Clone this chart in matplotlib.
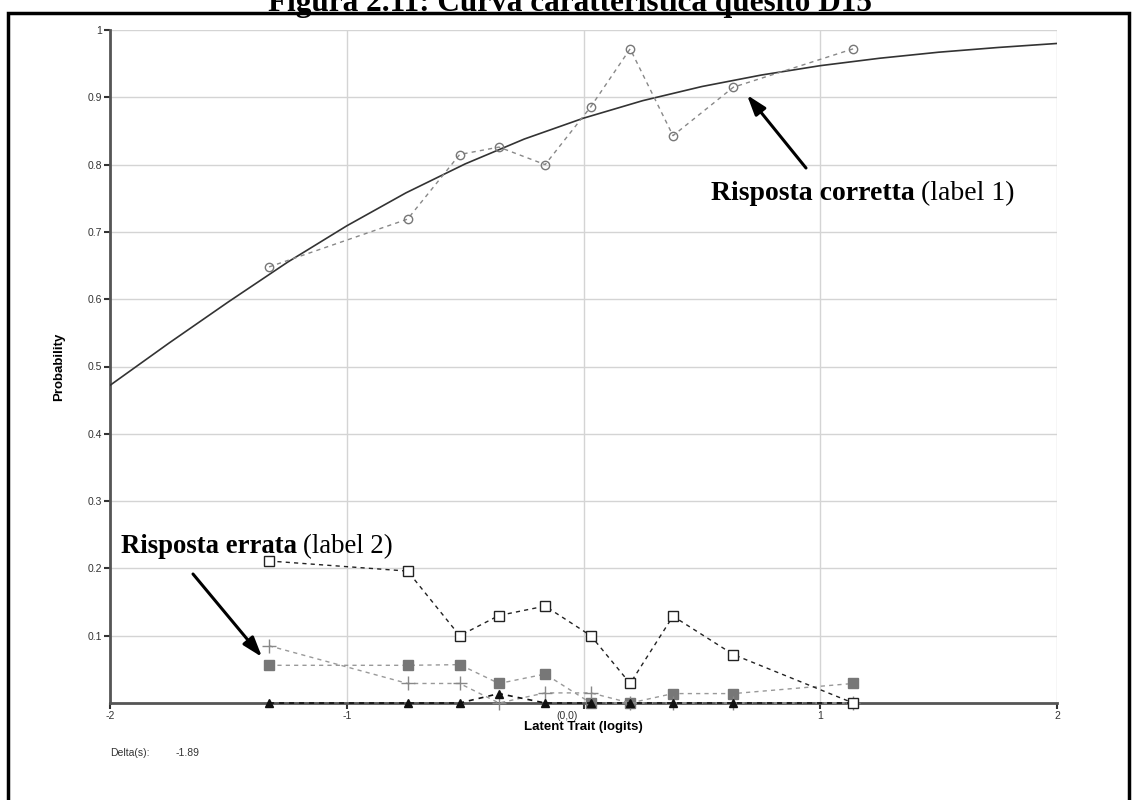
import matplotlib
matplotlib.use("Agg")
from matplotlib import pyplot as plt
from matplotlib.patches import Rectangle

# ability groups (logits)
theta = [-1.328, -0.743, -0.523, -0.357, -0.162, 0.031, 0.197, 0.378, 0.633, 1.139]
# observed proportions per category
p_corretta = [0.648, 0.719, 0.815, 0.826, 0.800, 0.886, 0.972, 0.843, 0.915, 0.972]
p_errata = [0.211, 0.196, 0.100, 0.130, 0.144, 0.100, 0.029, 0.129, 0.072, 0.0]
p_grigio = [0.056, 0.056, 0.057, 0.029, 0.043, 0.0, 0.0, 0.014, 0.014, 0.029]
p_croce = [0.085, 0.029, 0.029, 0.0, 0.015, 0.015, 0.0, 0.0, 0.0, 0.0]
p_triang = [0.0, 0.0, 0.0, 0.014, 0.0, 0.0, 0.0, 0.0, 0.0, 0.0]

# model curve
curva_x = [-2, -1.75, -1.5, -1.25, -1, -0.75, -0.5, -0.25, 0, 0.25, 0.5, 0.75, 1, 1.25, 1.5, 1.75, 2]
curva_y = [0.472, 0.535, 0.596, 0.655, 0.709, 0.758, 0.801, 0.838, 0.869, 0.895, 0.916, 0.933,
           0.947, 0.958, 0.967, 0.974, 0.980]

yticks = [0.1, 0.2, 0.3, 0.4, 0.5, 0.6, 0.7, 0.8, 0.9, 1.0]
ylabels = ["0.1", "0.2", "0.3", "0.4", "0.5", "0.6", "0.7", "0.8", "0.9", "1"]
xticks = [-2, -1, 0, 1, 2]
xlabels = ["-2", "-1", "", "1", "2"]

plt.rcParams["font.family"] = ["Liberation Sans", "DejaVu Sans"]

W, H = 1134, 800
fig = plt.figure(figsize=(W / 100, H / 100), dpi=100)
ax = fig.add_axes([110 / W, 1 - 703 / H, 947 / W, 673 / H])

ax.set_xlim(-2, 2)
ax.set_ylim(0, 1)
ax.grid(True, color="#d4d4d4", linewidth=1)
ax.set_axisbelow(True)
for s in ["top", "right"]:
    ax.spines[s].set_visible(False)
for s in ["left", "bottom"]:
    ax.spines[s].set_color("#555555")
    ax.spines[s].set_linewidth(2)

ax.set_yticks(yticks)
ax.set_yticklabels(ylabels)
ax.set_xticks(xticks)
ax.set_xticklabels(xlabels)
ax.tick_params(axis="both", labelsize=7.5, colors="#333333", length=4, width=1.5, pad=2)

ax.plot(curva_x, curva_y, color="#333333", linewidth=1.2, zorder=3)

dash = (0, (3, 3))
ax.plot(theta, p_corretta, linestyle=dash, color="#888888", linewidth=1, marker="o",
        markersize=6, markerfacecolor="none", markeredgecolor="#777777", zorder=4)
ax.plot(theta, p_grigio, linestyle=dash, color="#999999", linewidth=1, marker="s",
        markersize=7, markerfacecolor="#777777", markeredgecolor="#777777", zorder=4, clip_on=False)
ax.plot(theta, p_croce, linestyle=dash, color="#999999", linewidth=1, marker="+",
        markersize=10, markeredgecolor="#888888", markeredgewidth=1, zorder=4, clip_on=False)
ax.plot(theta, p_triang, linestyle=dash, color="#111111", linewidth=1.2, marker="^",
        markersize=6, markerfacecolor="#111111", markeredgecolor="#111111", zorder=5, clip_on=False)
ax.plot(theta, p_errata, linestyle=dash, color="#222222", linewidth=1, marker="s",
        markersize=6.5, markerfacecolor="white", markeredgecolor="#222222", zorder=6, clip_on=False)

ax.text(-0.07, -0.012, "(0,0)", fontsize=7.5, color="#333333", ha="center", va="top")
ax.set_xlabel("Latent Trait (logits)", fontsize=9.5, fontweight="bold", labelpad=0)
ax.set_ylabel("Probability", fontsize=9.5, fontweight="bold", labelpad=16)

fig.text(110 / W, 1 - 753 / H, "Delta(s):", fontsize=7.5, color="#333333", va="center")
fig.text(176 / W, 1 - 753 / H, "-1.89", fontsize=7.5, color="#333333", va="center")

# frame and title (the title runs off the top edge as in the source page)
fig.patches.append(Rectangle((8 / W, -0.02), 1121 / W, 1.02 - 13 / H, transform=fig.transFigure,
                             fill=False, edgecolor="black", linewidth=2.5))
fig.text(0.503, 1 - 11 / H, "Figura 2.11: Curva caratteristica quesito D15", fontsize=22.5,
         fontweight="bold", family="Liberation Serif", ha="center", va="baseline")

# annotations
def etichetta(x, y, bold, normal, size):
    t = fig.text(x / W, 1 - y / H, bold, fontsize=size, fontweight="bold",
                 family="Liberation Serif", va="baseline")
    fig.canvas.draw()
    bb = t.get_window_extent()
    fig.text(bb.x1 / W + 6 / W, 1 - y / H, normal, fontsize=size,
             family="Liberation Serif", va="baseline")

etichetta(711, 200, "Risposta corretta", "(label 1)", 20)
etichetta(121, 553, "Risposta errata", "(label 2)", 19.3)

for tail, tip in [((806, 168), (747, 95)), ((193, 574), (262, 657))]:
    fig.add_artist(plt.Annotation("", xy=(tip[0] / W, 1 - tip[1] / H), xycoords="figure fraction",
                                  xytext=(tail[0] / W, 1 - tail[1] / H), textcoords="figure fraction",
                                  arrowprops=dict(arrowstyle="-|>,head_length=1.2,head_width=0.4",
                                                  color="black", linewidth=2.2, shrinkA=0, shrinkB=0)))

fig.savefig("out.png", dpi=100)
